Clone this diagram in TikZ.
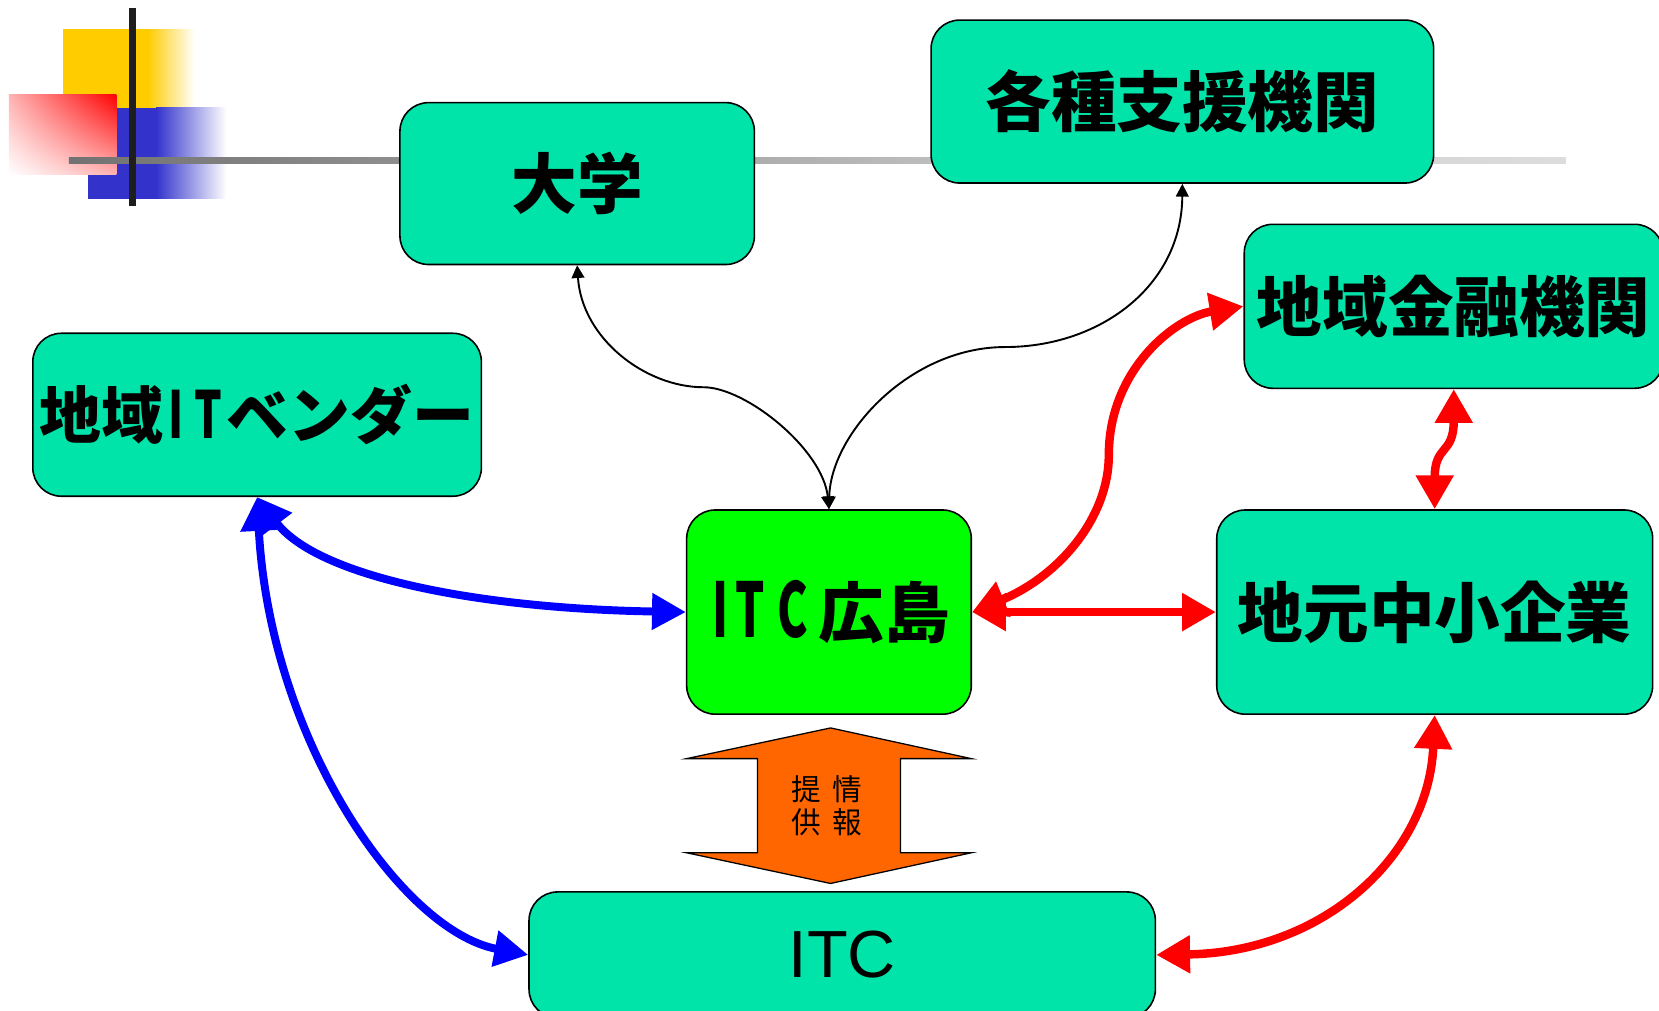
\documentclass[tikz,border=0pt]{standalone}
\usepackage{fontspec}
\setmainfont{Liberation Sans}
\newfontfamily\jp{Noto Sans CJK JP}
\usetikzlibrary{arrows.meta,shadings}
\definecolor{boxc}{RGB}{0,228,170}
\definecolor{hirog}{RGB}{0,255,0}
\definecolor{orng}{RGB}{255,102,0}
\definecolor{yel}{RGB}{255,204,0}
\definecolor{blu}{RGB}{51,51,204}
\definecolor{barc}{RGB}{30,30,30}
\definecolor{lineA}{RGB}{30,30,30}
\definecolor{lineB}{RGB}{106,106,106}
\definecolor{lineC}{RGB}{168,168,168}
\definecolor{lineD}{RGB}{200,200,200}
\definecolor{lineE}{RGB}{240,240,240}
\pgfdeclarehorizontalshading{hline}{100bp}{color(0bp)=(lineA); color(22bp)=(lineB); color(46bp)=(lineC); color(58bp)=(lineD); color(91bp)=(lineE); color(100bp)=(white)}
\newcommand{\nl}[2][1.15]{\scalebox{0.7}[#1]{#2}}
\tikzset{
  box/.style={draw=black, line width=1.5pt, rounded corners=27pt, fill=boxc, inner sep=0pt,
    font=\jp\bfseries\fontsize{62}{62}\selectfont},
  tarrow/.style={draw=black, line width=1.8pt, {Triangle[length=12pt,width=12pt]}-{Triangle[length=12pt,width=12pt]}},
  rarrow/.style={draw=red, line width=8pt, {Triangle[length=32pt,width=34pt]}-{Triangle[length=32pt,width=34pt]}},
  barrow/.style={draw=blue, line width=7.5pt, {Triangle[length=32pt,width=33pt]}-{Triangle[length=32pt,width=33pt]}},
  vtext/.style={font=\jp\fontsize{28}{32}\selectfont, align=center, inner sep=0pt},
}
\begin{document}
\begin{tikzpicture}[x=1pt,y=-1pt]
\useasboundingbox (0,0) rectangle (1568,955);
\clip (0,0) rectangle (1568,955);
% decoration
\fill[yel] (60,27.5) rectangle (140,102);
\shade[left color=yel, right color=white] (139.5,27.5) rectangle (184,102);
\fill[blu] (83,102) rectangle (148,188);
\shade[left color=blu, right color=white] (147.5,102) rectangle (214,188);
\shade[upper left=red!30, upper right=red, lower left=white, lower right=red!30] (8.4,89) rectangle (110,165);
\shade[shading=hline] (65,149) rectangle (1480,155);
\fill[barc] (122,7.5) rectangle (128.5,195);
% boxes
\node[box, minimum width=335pt, minimum height=153pt] (daigaku) at (545.5,173.5) {大学};
\node[box, minimum width=475pt, minimum height=154pt] (kakushu) at (1117.5,96) {各種支援機関};
\node[box, minimum width=396pt, minimum height=155pt] (kinyu) at (1374,289.5) {地域金融機関};
\node[box, minimum width=424pt, minimum height=154pt, font=\jp\bfseries\fontsize{58.5}{58.5}\selectfont] (vendor) at (243,392) {地域\makebox[24pt]{\nl[1.05]{I}}\makebox[36pt]{\nl[1.05]{T}}ベンダー};
\node[box, fill=hirog, minimum width=269pt, minimum height=193pt] (hiro) at (783.5,578.5) {\makebox[24pt]{\nl{I}}\makebox[32pt]{\nl{T}}\makebox[49pt]{\nl{C}}広島};
\node[box, minimum width=412pt, minimum height=193pt] (chimoto) at (1356,578.5) {地元中小企業};
\node[box, minimum width=592pt, minimum height=119pt, font=\fontsize{63}{63}\selectfont] (itc) at (796,902.5) {ITC};
% orange double arrow
\draw[fill=orng, line width=1.2pt, line join=miter] (785,688) -- (918,717) -- (851,717) -- (851,806) -- (918,806) -- (785,835) -- (649,806) -- (716,806) -- (716,717) -- (649,717) -- cycle;
\node[vtext] (jouhou) at (801,761.5) {情\\報};
\node[vtext] (teikyou) at (762,761.5) {提\\供};
% thin arrows
\draw[tarrow] (daigaku.south) .. controls (550,320) and (610,366) .. (665,366) .. controls (705,366) and (778,425) .. (hiro.north);
\draw[tarrow] (kakushu.south) .. controls (1117,270) and (1040,328) .. (950,328) .. controls (860,328) and (785,410) .. (hiro.north);
% blue arrows
\draw[barrow] (vendor.south) .. controls (300,545) and (450,575) .. (hiro.west);
\draw[barrow] (vendor.south) .. controls (255,700) and (380,880) .. (itc.west);
% red arrows
\draw[rarrow] (hiro.east) .. controls (1000,545) and (1048,490) .. (1048,430) .. controls (1048,350) and (1110,300) .. (kinyu.west);
\draw[rarrow] (hiro.east) -- (chimoto.west);
\draw[rarrow] (kinyu.south) .. controls (1374,430) and (1356,420) .. (chimoto.north);
\draw[rarrow] (chimoto.south) .. controls (1350,810) and (1250,900) .. (itc.east);
\end{tikzpicture}
\end{document}
